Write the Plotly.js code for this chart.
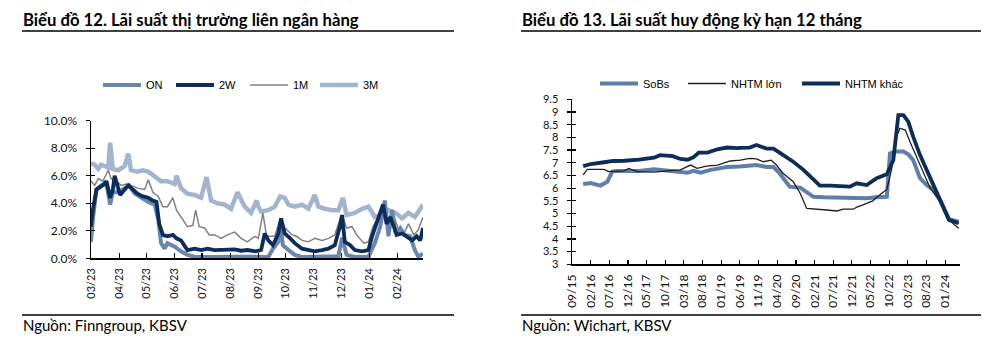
<!DOCTYPE html>
<html><head><meta charset="utf-8">
<script src="https://cdn.plot.ly/plotly-3.0.1.min.js"></script>
<style>html,body{margin:0;padding:0;background:#fff}#chart{width:988px;height:339px}</style>
</head><body><div id="chart"></div>
<script>
// ---------- Chart 12: interbank rates (%) ----------
const onDates = ['2023-03-01','2023-03-03','2023-03-07','2023-03-12','2023-03-18','2023-03-22','2023-03-25','2023-03-31','2023-04-07','2023-04-12','2023-04-18','2023-04-25','2023-05-03','2023-05-10','2023-05-14','2023-05-17','2023-05-21','2023-05-24','2023-06-01','2023-06-08','2023-06-15','2023-06-23','2023-06-30','2023-07-15','2023-08-01','2023-08-15','2023-09-01','2023-09-12','2023-09-17','2023-09-23','2023-09-25','2023-09-28','2023-10-06','2023-10-11','2023-10-19','2023-11-10','2023-11-28','2023-11-30','2023-12-02','2023-12-07','2023-12-16','2023-12-31','2024-01-07','2024-01-13','2024-01-18','2024-01-22','2024-01-26','2024-01-30','2024-02-04','2024-02-09','2024-02-15','2024-02-20','2024-02-24','2024-02-29'];
const onVals = [1.2,2.8,5.0,5.3,5.45,3.9,4.8,4.8,5.1,5.3,4.7,4.4,4.1,3.9,2.8,1.1,0.7,1.1,0.85,0.5,0.25,0.12,0.1,0.1,0.12,0.1,0.1,0.1,0.7,1.2,2.6,0.95,0.5,0.25,0.1,0.1,0.15,0.85,1.5,0.25,0.1,0.1,1.1,2.3,4.2,1.6,3.5,1.8,2.2,1.7,1.6,0.6,0.1,0.35];

const w2Dates = ['2023-03-01','2023-03-03','2023-03-07','2023-03-10','2023-03-14','2023-03-18','2023-03-22','2023-03-25','2023-03-27','2023-04-02','2023-04-07','2023-04-11','2023-04-16','2023-04-21','2023-04-27','2023-05-03','2023-05-08','2023-05-12','2023-05-15','2023-05-19','2023-05-24','2023-05-30','2023-06-03','2023-06-08','2023-06-15','2023-06-23','2023-06-30','2023-07-07','2023-07-15','2023-07-22','2023-07-29','2023-08-06','2023-08-13','2023-08-20','2023-08-29','2023-09-04','2023-09-08','2023-09-12','2023-09-17','2023-09-23','2023-09-26','2023-09-30','2023-10-06','2023-10-11','2023-10-19','2023-10-26','2023-11-02','2023-11-10','2023-11-17','2023-11-24','2023-11-30','2023-12-02','2023-12-05','2023-12-11','2023-12-16','2023-12-24','2023-12-31','2024-01-04','2024-01-09','2024-01-15','2024-01-16','2024-01-20','2024-01-24','2024-01-28','2024-01-31','2024-02-06','2024-02-11','2024-02-17','2024-02-22','2024-02-26','2024-02-29'];
const w2Vals = [2.3,3.5,5.0,5.1,5.3,5.6,4.4,5.0,6.0,4.6,5.0,5.3,5.0,4.7,4.5,4.4,4.2,4.1,2.5,1.7,1.6,1.7,1.45,1.3,0.6,0.7,0.6,0.7,0.6,0.6,0.6,0.65,0.55,0.6,0.5,0.6,1.8,1.3,0.95,1.8,2.9,1.8,1.45,1.1,0.7,0.6,0.5,0.6,0.7,0.95,2.4,3.15,1.2,0.95,0.6,0.5,0.6,1.6,2.5,3.75,3.9,2.5,3.0,2.3,1.7,1.8,1.6,1.3,1.6,1.3,2.2];

const m1Dates = ['2023-03-01','2023-03-05','2023-03-09','2023-03-14','2023-03-20','2023-03-23','2023-03-29','2023-04-03','2023-04-09','2023-04-14','2023-04-21','2023-04-29','2023-05-03','2023-05-08','2023-05-14','2023-05-19','2023-05-24','2023-05-30','2023-06-03','2023-06-08','2023-06-15','2023-06-21','2023-06-24','2023-06-28','2023-07-04','2023-07-09','2023-07-15','2023-07-22','2023-07-29','2023-08-06','2023-08-13','2023-08-20','2023-08-28','2023-09-01','2023-09-06','2023-09-10','2023-09-19','2023-09-25','2023-09-28','2023-10-02','2023-10-08','2023-10-13','2023-10-19','2023-10-26','2023-11-02','2023-11-10','2023-11-17','2023-11-24','2023-11-30','2023-12-03','2023-12-07','2023-12-13','2023-12-18','2023-12-26','2023-12-31','2024-01-05','2024-01-11','2024-01-16','2024-01-22','2024-01-28','2024-02-02','2024-02-08','2024-02-13','2024-02-19','2024-02-24','2024-02-29'];
const m1Vals = [5.6,5.3,5.8,5.6,6.4,5.8,5.6,5.3,5.4,5.3,5.1,5.0,5.7,4.8,4.5,3.75,3.75,4.4,3.5,3.0,2.3,2.4,3.5,2.3,2.2,1.7,1.7,1.45,1.7,1.9,1.45,1.2,1.6,1.45,3.3,1.6,1.6,2.9,2.3,2.1,1.7,1.6,1.3,1.2,1.45,1.3,1.45,1.7,2.9,3.0,2.2,2.3,1.7,1.1,1.2,2.3,3.0,3.6,2.5,3.1,2.1,1.8,2.5,1.7,2.1,3.0];

const m3Dates = ['2023-03-01','2023-03-05','2023-03-09','2023-03-12','2023-03-16','2023-03-20','2023-03-22','2023-03-25','2023-03-31','2023-04-07','2023-04-11','2023-04-14','2023-04-21','2023-04-27','2023-05-03','2023-05-10','2023-05-17','2023-05-24','2023-06-01','2023-06-03','2023-06-08','2023-06-15','2023-06-23','2023-06-30','2023-07-06','2023-07-11','2023-07-18','2023-07-26','2023-08-02','2023-08-09','2023-08-17','2023-08-24','2023-08-30','2023-09-01','2023-09-04','2023-09-12','2023-09-19','2023-09-25','2023-09-30','2023-10-04','2023-10-11','2023-10-19','2023-10-26','2023-11-02','2023-11-06','2023-11-13','2023-11-21','2023-11-28','2023-12-03','2023-12-07','2023-12-16','2023-12-24','2023-12-31','2024-01-07','2024-01-15','2024-01-22','2024-01-30','2024-02-06','2024-02-13','2024-02-20','2024-02-29'];
const m3Vals = [6.9,6.8,6.5,6.8,6.7,6.6,8.4,6.5,6.4,6.7,7.6,6.4,6.3,6.4,6.3,5.9,5.6,5.6,5.4,6.0,5.1,4.7,4.6,4.4,5.9,4.2,4.0,3.9,3.6,4.8,3.75,3.3,4.2,3.75,3.4,3.5,3.75,4.5,4.4,3.9,3.75,3.9,3.6,4.6,3.75,3.6,3.5,3.5,4.4,3.15,3.3,3.6,3.75,3.0,3.15,3.5,3.3,2.9,3.3,3.0,3.9];

// ---------- Chart 13: 12-month deposit rates (%) ----------
const sobsDates = ['2015-12-01','2016-02-01','2016-04-20','2016-06-15','2016-07-25','2016-09-01','2016-11-01','2017-03-01','2017-07-01','2017-10-18','2018-02-01','2018-04-01','2018-05-20','2018-07-15','2018-10-05','2018-12-15','2019-02-15','2019-06-01','2019-08-20','2019-10-15','2020-01-05','2020-03-01','2020-04-20','2020-07-12','2020-10-05','2020-11-28','2021-01-22','2021-04-15','2021-08-15','2021-12-15','2022-04-01','2022-06-15','2022-09-12','2022-10-08','2022-11-18','2023-01-25','2023-03-06','2023-04-15','2023-06-10','2023-08-03','2023-09-27','2023-11-21','2024-01-01','2024-02-01','2024-04-20'];
const sobsVals = [6.16,6.2,6.1,6.25,6.65,6.68,6.68,6.68,6.74,6.68,6.66,6.61,6.68,6.61,6.72,6.78,6.83,6.85,6.87,6.91,6.83,6.83,6.59,6.06,6.02,5.86,5.66,5.64,5.62,5.6,5.6,5.64,5.66,7.37,7.44,7.44,7.33,7.11,6.39,6.12,5.93,5.53,5.1,4.78,4.68];

const bigDates = ['2015-12-01','2016-01-04','2016-05-18','2016-06-28','2016-11-01','2016-12-06','2017-02-15','2017-07-01','2017-10-18','2018-02-01','2018-04-25','2018-06-18','2018-09-01','2018-12-01','2019-03-15','2019-06-06','2019-08-20','2019-10-15','2019-12-10','2020-02-12','2020-03-25','2020-05-18','2020-08-10','2020-10-05','2020-11-28','2021-01-22','2021-05-10','2021-08-01','2021-09-22','2021-12-12','2022-01-10','2022-03-01','2022-05-20','2022-07-15','2022-09-12','2022-10-20','2022-12-01','2022-12-28','2023-02-10','2023-03-20','2023-05-12','2023-07-06','2023-09-01','2023-10-25','2023-12-15','2024-02-01','2024-03-01','2024-04-20'];
const bigVals = [6.52,6.74,6.74,6.65,6.68,6.78,6.65,6.63,6.68,6.72,6.91,6.78,6.87,6.91,7.07,7.1,7.17,7.15,7.04,7.1,6.91,6.59,6.25,5.8,5.2,5.17,5.14,5.1,5.17,5.17,5.25,5.34,5.5,5.73,5.95,6.72,8.03,8.36,8.29,7.83,7.24,6.65,6.0,5.66,5.27,4.75,4.62,4.42];

const otherDates = ['2015-12-01','2016-02-01','2016-05-20','2016-08-01','2016-11-01','2017-03-01','2017-07-01','2017-08-20','2017-12-01','2018-02-01','2018-04-01','2018-05-20','2018-07-01','2018-09-10','2018-12-01','2019-02-15','2019-05-15','2019-06-01','2019-08-20','2019-10-15','2020-01-05','2020-03-01','2020-04-20','2020-08-10','2020-11-01','2020-12-25','2021-03-15','2021-06-06','2021-08-25','2021-11-15','2022-01-09','2022-04-01','2022-06-21','2022-09-12','2022-11-04','2022-12-15','2023-01-25','2023-03-06','2023-04-15','2023-06-10','2023-08-03','2023-09-27','2023-11-21','2024-01-01','2024-02-01','2024-04-20'];
const otherVals = [6.87,6.95,7.02,7.07,7.08,7.12,7.2,7.3,7.26,7.15,7.12,7.22,7.4,7.4,7.53,7.6,7.58,7.59,7.6,7.7,7.56,7.56,7.4,7.04,6.72,6.45,6.1,6.1,6.08,6.06,6.19,6.12,6.39,6.55,7.1,8.88,8.88,8.62,8.03,7.3,6.72,6.12,5.6,5.1,4.75,4.62];

const W = 988, H = 339;
const px = v => v / W;
const py = v => 1 - v / H;

const line = (x, y, name, color, width, xa, ya, lg) => ({
  type: 'scatter', mode: 'lines', x, y, name, xaxis: xa, yaxis: ya, legend: lg,
  line: {color, width, shape: 'linear'}, hoverinfo: 'skip'
});

const data = [
  line(m3Dates, m3Vals, '3M', '#A3B4CE', 4.5, 'x', 'y', 'legend4'),
  line(m1Dates, m1Vals, '1M', '#808080', 1.5, 'x', 'y', 'legend3'),
  line(onDates, onVals, 'ON', '#6A86AE', 4, 'x', 'y', 'legend'),
  line(w2Dates, w2Vals, '2W', '#0B2D5B', 3.8, 'x', 'y', 'legend2'),
  line(sobsDates, sobsVals, 'SoBs', '#5F7FAA', 4, 'x2', 'y2', 'legend5'),
  line(bigDates, bigVals, 'NHTM lớn', '#1E1E1E', 1.3, 'x2', 'y2', 'legend6'),
  line(otherDates, otherVals, 'NHTM khác', '#0C2D57', 3.8, 'x2', 'y2', 'legend7'),
  {type:'scatter', x:[], y:[], xaxis:'x', yaxis:'y3', showlegend:false},
  {type:'scatter', x:[], y:[], xaxis:'x2', yaxis:'y4', showlegend:false}
];

const tickFont = {family: 'Lato, "Noto Sans", sans-serif', size: 12, color: '#111'};
const legFont = {family: '"Liberation Sans", Arial, sans-serif', size: 11, color: '#000'};
const mkLegend = (xLine, yLine) => ({
  x: px(xLine - 5), xanchor: 'left', y: py(yLine), yanchor: 'middle',
  orientation: 'h', bgcolor: 'rgba(0,0,0,0)', borderwidth: 0, font: legFont,
  itemwidth: 38, itemclick: false, itemdoubleclick: false
});

const titleFont = {family: 'Lato, "Noto Sans", sans-serif', size: 16.7, color: '#000'};
const srcFont = {family: 'Lato, "Noto Sans", sans-serif', size: 15, color: '#000'};

const layout = {
  width: W, height: H, margin: {l: 0, r: 0, t: 0, b: 0},
  paper_bgcolor: '#fff', plot_bgcolor: 'rgba(0,0,0,0)', showlegend: true,
  xaxis: {
    type: 'date', domain: [px(91), px(423)], range: ['2023-03-01', '2024-02-29'],
    tick0: '2023-03-01', dtick: 'M1', tickformat: '%m/%y', tickangle: -90,
    ticks: 'inside', ticklen: 5, tickcolor: '#000', tickwidth: 1.2,
    showline: true, linecolor: '#000', linewidth: 1.5, showgrid: false, zeroline: false,
    tickfont: Object.assign({}, tickFont, {size: 11}), anchor: 'y', ticklabelstandoff: 4
  },
  yaxis: {
    domain: [py(258.3), py(120.7)], range: [0, 10], dtick: 2, tick0: 0,
    tickformat: '.1f', ticksuffix: '%', ticks: 'outside', ticklen: 4, tickcolor: '#000', tickwidth: 1.2,
    showline: true, linecolor: '#000', linewidth: 1.5, showgrid: false, zeroline: false,
    tickfont: tickFont, anchor: 'x', ticklabelstandoff: 6
  },
  yaxis3: {
    overlaying: 'y', range: [0, 10], dtick: 2, tick0: 0, ticks: 'inside', ticklen: 4,
    tickcolor: '#000', tickwidth: 1.2, showticklabels: false, showline: false,
    showgrid: false, zeroline: false, side: 'left', anchor: 'x'
  },
  xaxis2: {
    type: 'date', domain: [px(572), px(960)], range: ['2015-09-01', '2024-05-01'],
    tick0: '2015-09-01', dtick: 'M5', tickformat: '%m/%y', tickangle: -90,
    ticks: 'inside', ticklen: 4, tickcolor: '#000', tickwidth: 1.2,
    showline: true, linecolor: '#000', linewidth: 1.5, showgrid: false, zeroline: false,
    tickfont: tickFont, anchor: 'y2', ticklabelstandoff: 4
  },
  yaxis2: {
    domain: [py(264.3), py(99.3)], range: [3, 9.5], dtick: 0.5, tick0: 3,
    ticks: 'outside', ticklen: 4, tickcolor: '#000', tickwidth: 1.2,
    showline: true, linecolor: '#000', linewidth: 1.5, showgrid: false, zeroline: false,
    tickfont: Object.assign({}, tickFont, {size: 11}), anchor: 'x2', ticklabelstandoff: 6
  },
  yaxis4: {
    overlaying: 'y2', range: [3, 9.5], dtick: 0.5, tick0: 3, ticks: 'inside', ticklen: 4,
    tickcolor: '#000', tickwidth: 1.2, showticklabels: false, showline: false,
    showgrid: false, zeroline: false, side: 'left', anchor: 'x2'
  },
  legend: mkLegend(103, 85),
  legend2: mkLegend(176, 85),
  legend3: mkLegend(250, 85),
  legend4: mkLegend(320, 85),
  legend5: mkLegend(600, 83.5),
  legend6: mkLegend(688, 83.5),
  legend7: mkLegend(802, 83.5),
  shapes: [
    {type:'line', xref:'paper', yref:'paper', x0:px(22), x1:px(454), y0:py(31), y1:py(31), line:{color:'#000', width:1.3}},
    {type:'line', xref:'paper', yref:'paper', x0:px(521), x1:px(981), y0:py(31), y1:py(31), line:{color:'#000', width:1.3}},
    {type:'line', xref:'paper', yref:'paper', x0:px(22), x1:px(454), y0:py(315), y1:py(315), line:{color:'#000', width:1.3}},
    {type:'line', xref:'paper', yref:'paper', x0:px(521), x1:px(981), y0:py(315), y1:py(315), line:{color:'#000', width:1.3}}
  ],
  annotations: [
    {xref:'paper', yref:'paper', x:px(21), y:py(20), xanchor:'left', yanchor:'middle', showarrow:false,
     text:'<b>Biểu đồ 12. Lãi suất thị trường liên ngân hàng</b>', font:titleFont},
    {xref:'paper', yref:'paper', x:px(520), y:py(20), xanchor:'left', yanchor:'middle', showarrow:false,
     text:'<b>Biểu đồ 13. Lãi suất huy động kỳ hạn 12 tháng</b>', font:titleFont},
    {xref:'paper', yref:'paper', x:px(21), y:py(325), xanchor:'left', yanchor:'middle', showarrow:false,
     text:'Nguồn: Finngroup, KBSV', font:srcFont},
    {xref:'paper', yref:'paper', x:px(520), y:py(325), xanchor:'left', yanchor:'middle', showarrow:false,
     text:'Nguồn: Wichart, KBSV', font:srcFont}
  ]
};

Plotly.newPlot('chart', data, layout, {staticPlot: true, displayModeBar: false});
</script>
</body></html>
